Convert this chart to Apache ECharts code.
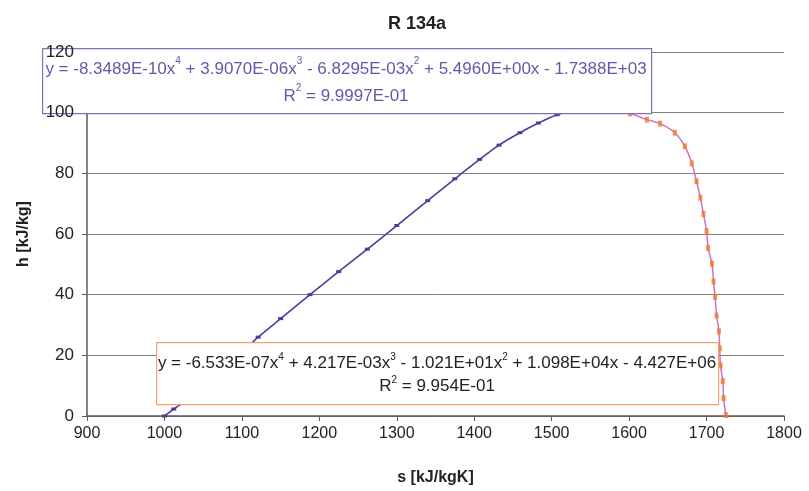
<!DOCTYPE html>
<html>
<head>
<meta charset="utf-8">
<script src="https://cdn.jsdelivr.net/npm/echarts@6/dist/echarts.min.js"></script>
<style>
  html, body { margin: 0; padding: 0; background: #fff; }
  #app { width: 809px; height: 491px; }
</style>
</head>
<body>
<div id="app"></div>
<script>
// liquid side (s, h)
const liquidS = [1000, 1012, 1023, 1050, 1080, 1110, 1121, 1150, 1188, 1225, 1262, 1300, 1340, 1375, 1407, 1432, 1459, 1483, 1507, 1530, 1560];
const liquidH = [0, 2.3, 4.3, 10.2, 16.8, 23.4, 26, 32.1, 40, 47.6, 55, 62.8, 71, 78.2, 84.6, 89.3, 93.4, 96.6, 99.3, 101, 101.8];

// vapour side
const vaporS = [1560, 1601, 1623, 1640, 1659, 1672, 1681, 1687, 1692, 1696, 1700, 1702, 1707, 1709, 1711, 1713, 1716, 1717, 1718, 1721, 1722, 1725];
const vaporH = [101.8, 99.7, 97.7, 96.4, 93.4, 88.9, 83.3, 77.4, 72, 66.6, 61, 55.4, 50.2, 44.3, 39.3, 33.1, 27.9, 22.3, 16.7, 11.5, 5.9, 0.3];

const xTicks = [900, 1000, 1100, 1200, 1300, 1400, 1500, 1600, 1700, 1800];
const yTicks = [0, 20, 40, 60, 80, 100, 120];

const eqTop = "y = -8.3489E-10x{s|4} + 3.9070E-06x{s|3} - 6.8295E-03x{s|2} + 5.4960E+00x - 1.7388E+03\nR{s|2} = 9.9997E-01";
const eqBottom = "y = -6.533E-07x{s|4} + 4.217E-03x{s|3} - 1.021E+01x{s|2} + 1.098E+04x - 4.427E+06\nR{s|2} = 9.954E-01";

const pairs = (xs, ys) => xs.map((x, i) => [x, ys[i]]);

const font = "Liberation Sans, Arial, sans-serif";
const chart = echarts.init(document.getElementById("app"));

const yBase = {
  type: "value",
  min: yTicks[0],
  max: yTicks[yTicks.length - 1],
  interval: 20,
  position: "left"
};

chart.setOption({
  animation: false,
  textStyle: { fontFamily: font },
  title: {
    text: "R 134a",
    left: 412,
    textAlign: "center",
    top: 10,
    textStyle: { fontSize: 18, fontWeight: "bold", color: "#222", fontFamily: font }
  },
  grid: { left: 87, right: 25, top: 52, bottom: 73 },
  xAxis: {
    type: "value",
    min: xTicks[0],
    max: xTicks[xTicks.length - 1],
    interval: 100,
    name: "s [kJ/kgK]",
    nameLocation: "middle",
    nameGap: 54,
    nameTextStyle: { fontSize: 16, fontWeight: "bold", color: "#222" },
    axisLine: { onZero: false, lineStyle: { color: "#5a5a5a", width: 1.5 } },
    axisTick: { show: true, length: 5, lineStyle: { color: "#5a5a5a" } },
    axisLabel: { fontSize: 16, color: "#222", margin: 10, formatter: (v) => String(v) },
    splitLine: { show: false }
  },
  yAxis: [
    Object.assign({}, yBase, {
      name: "h [kJ/kg]",
      nameLocation: "middle",
      nameGap: 55,
      nameTextStyle: { fontSize: 16, fontWeight: "bold", color: "#222" },
      axisLine: { show: true, lineStyle: { color: "#5a5a5a", width: 1.5 } },
      axisTick: { show: true, length: 5, lineStyle: { color: "#5a5a5a" } },
      axisLabel: { show: false },
      splitLine: { show: true, lineStyle: { color: "#7f7f7f", width: 1 } }
    }),
    // labels only, drawn above the equation box
    Object.assign({}, yBase, {
      z: 150,
      axisLine: { show: false },
      axisTick: { show: false },
      axisLabel: { fontSize: 17, color: "#222", margin: 13 },
      splitLine: { show: false }
    })
  ],
  series: [
    {
      type: "line",
      data: pairs(liquidS, liquidH),
      smooth: 0.4,
      showSymbol: true,
      symbol: "rect",
      symbolSize: [5, 3],
      itemStyle: { color: "#4f3c9a" },
      lineStyle: { color: "#4f3c9a", width: 1.6 },
      z: 3
    },
    {
      type: "line",
      data: pairs(vaporS, vaporH),
      smooth: 0.3,
      showSymbol: false,
      lineStyle: { color: "#d070c4", width: 1.5 },
      z: 2
    },
    {
      type: "scatter",
      data: pairs(vaporS, vaporH),
      symbol: "rect",
      symbolSize: [4, 6],
      itemStyle: { color: "#f07a2a" },
      z: 4
    }
  ],
  graphic: [
    {
      type: "rect",
      left: 42, top: 48,
      shape: { width: 609, height: 65 },
      style: { fill: "#fff", stroke: "#8070b8", lineWidth: 1.2 },
      z: 100
    },
    {
      type: "text",
      z: 101,
      style: {
        x: 346, y: 83,
        text: eqTop,
        align: "center",
        verticalAlign: "middle",
        fill: "#6a55a8",
        font: "17px " + font,
        lineHeight: 27,
        rich: { s: { fontSize: 10, fill: "#6a55a8", verticalAlign: "top", lineHeight: 27 } }
      }
    },
    {
      type: "rect",
      left: 156, top: 342,
      shape: { width: 562, height: 62 },
      style: { fill: "#fff", stroke: "#f6a070", lineWidth: 1.2 },
      z: 100
    },
    {
      type: "text",
      z: 101,
      style: {
        x: 437, y: 375,
        text: eqBottom,
        align: "center",
        verticalAlign: "middle",
        fill: "#222",
        font: "17px " + font,
        lineHeight: 23,
        rich: { s: { fontSize: 10, fill: "#222", verticalAlign: "top", lineHeight: 23 } }
      }
    }
  ]
});
</script>
</body>
</html>
